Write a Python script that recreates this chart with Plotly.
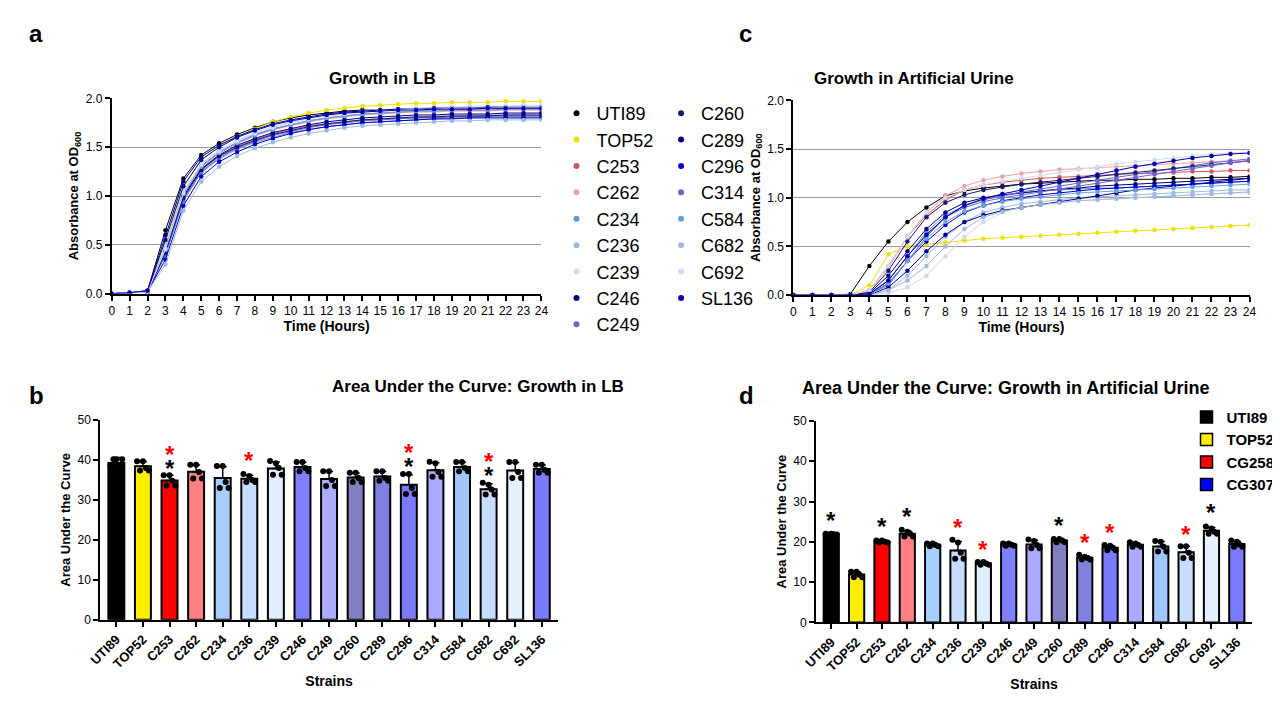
import plotly.graph_objects as go
import numpy as np

hours = list(range(25))
strains = ["UTI89","TOP52","C253","C262","C234","C236","C239","C246","C249",
           "C260","C289","C296","C314","C584","C682","C692","SL136"]

lb = {
"UTI89":[0,0.01,0.03,0.65,1.18,1.42,1.54,1.63,1.7,1.76,1.8,1.83,1.85,1.87,1.88,1.88,1.89,1.89,1.89,1.9,1.9,1.9,1.9,1.9,1.9],
"TOP52":[0,0.01,0.02,0.5,1.08,1.37,1.51,1.61,1.69,1.76,1.81,1.85,1.88,1.9,1.92,1.93,1.94,1.95,1.95,1.96,1.96,1.96,1.97,1.97,1.97],
"C253":[0,0.01,0.02,0.42,0.98,1.27,1.41,1.51,1.58,1.64,1.68,1.72,1.74,1.76,1.78,1.79,1.8,1.8,1.81,1.81,1.82,1.82,1.82,1.82,1.82],
"C262":[0,0.01,0.02,0.45,1.02,1.3,1.44,1.54,1.62,1.68,1.72,1.76,1.79,1.81,1.83,1.84,1.85,1.86,1.86,1.87,1.87,1.87,1.88,1.88,1.88],
"C234":[0,0.01,0.02,0.4,0.95,1.24,1.38,1.48,1.55,1.6,1.65,1.68,1.71,1.73,1.75,1.76,1.77,1.78,1.79,1.8,1.8,1.81,1.81,1.81,1.81],
"C236":[0,0.01,0.02,0.42,0.97,1.26,1.4,1.5,1.57,1.63,1.67,1.71,1.74,1.76,1.78,1.79,1.8,1.81,1.82,1.82,1.83,1.83,1.83,1.84,1.84],
"C239":[0,0.01,0.02,0.48,1.05,1.33,1.47,1.57,1.65,1.71,1.76,1.8,1.83,1.85,1.87,1.88,1.89,1.9,1.91,1.91,1.92,1.92,1.92,1.93,1.93],
"C246":[0,0.01,0.03,0.6,1.15,1.4,1.52,1.61,1.68,1.74,1.78,1.81,1.84,1.86,1.87,1.88,1.89,1.89,1.9,1.9,1.9,1.91,1.91,1.91,1.91],
"C249":[0,0.01,0.02,0.4,0.96,1.25,1.39,1.49,1.56,1.62,1.66,1.7,1.73,1.75,1.77,1.78,1.79,1.8,1.8,1.81,1.81,1.82,1.82,1.82,1.82],
"C260":[0,0.01,0.02,0.42,0.98,1.27,1.41,1.5,1.57,1.63,1.67,1.71,1.74,1.76,1.78,1.79,1.8,1.81,1.81,1.82,1.82,1.82,1.83,1.83,1.83],
"C289":[0,0.01,0.02,0.44,1.0,1.28,1.42,1.52,1.59,1.65,1.69,1.73,1.76,1.78,1.8,1.81,1.82,1.83,1.83,1.84,1.84,1.84,1.85,1.85,1.85],
"C296":[0,0.01,0.02,0.35,0.9,1.2,1.35,1.45,1.53,1.59,1.64,1.68,1.71,1.73,1.75,1.76,1.77,1.78,1.79,1.79,1.8,1.8,1.8,1.8,1.8],
"C314":[0,0.01,0.02,0.46,1.03,1.31,1.45,1.55,1.63,1.69,1.73,1.77,1.8,1.82,1.84,1.85,1.86,1.87,1.87,1.88,1.88,1.88,1.89,1.89,1.89],
"C584":[0,0.01,0.02,0.45,1.02,1.3,1.44,1.54,1.62,1.68,1.73,1.77,1.8,1.82,1.84,1.85,1.86,1.87,1.88,1.88,1.89,1.89,1.89,1.9,1.9],
"C682":[0,0.01,0.02,0.3,0.85,1.15,1.3,1.41,1.49,1.55,1.6,1.64,1.67,1.7,1.72,1.73,1.74,1.75,1.76,1.77,1.77,1.78,1.78,1.78,1.78],
"C692":[0,0.01,0.02,0.46,1.03,1.32,1.46,1.56,1.64,1.7,1.75,1.79,1.82,1.84,1.86,1.87,1.88,1.89,1.89,1.9,1.9,1.9,1.91,1.91,1.91],
"SL136":[0,0.01,0.03,0.55,1.1,1.37,1.5,1.6,1.67,1.73,1.77,1.8,1.83,1.85,1.86,1.87,1.88,1.88,1.89,1.89,1.89,1.9,1.9,1.9,1.9],
}
au = {
"UTI89":[0,0,0,0.01,0.3,0.55,0.75,0.9,1.02,1.07,1.1,1.12,1.14,1.15,1.16,1.17,1.18,1.18,1.19,1.19,1.2,1.2,1.21,1.21,1.22],
"TOP52":[0,0,0,0,0.1,0.42,0.5,0.52,0.54,0.56,0.58,0.59,0.6,0.61,0.62,0.63,0.64,0.65,0.66,0.67,0.68,0.69,0.7,0.71,0.72],
"C253":[0,0,0,0,0.05,0.3,0.6,0.82,0.98,1.08,1.13,1.16,1.18,1.2,1.21,1.22,1.23,1.24,1.25,1.25,1.26,1.27,1.27,1.28,1.28],
"C262":[0,0,0,0,0.05,0.28,0.6,0.85,1.02,1.12,1.18,1.22,1.25,1.27,1.29,1.3,1.31,1.32,1.33,1.34,1.35,1.36,1.37,1.38,1.38],
"C234":[0,0,0,0,0.02,0.15,0.4,0.65,0.82,0.92,0.98,1.02,1.05,1.07,1.08,1.09,1.1,1.1,1.11,1.12,1.13,1.14,1.15,1.16,1.17],
"C236":[0,0,0,0,0,0.05,0.2,0.4,0.6,0.75,0.85,0.9,0.94,0.96,0.98,1.0,1.01,1.02,1.03,1.04,1.05,1.06,1.07,1.08,1.08],
"C239":[0,0,0,0,0,0.02,0.08,0.2,0.4,0.6,0.75,0.85,0.9,0.93,0.95,0.97,0.98,0.99,1.0,1.01,1.02,1.03,1.04,1.05,1.05],
"C246":[0,0,0,0,0.02,0.2,0.45,0.68,0.85,0.95,1.0,1.03,1.05,1.07,1.09,1.1,1.12,1.13,1.14,1.15,1.16,1.17,1.18,1.19,1.2],
"C249":[0,0,0,0,0.01,0.1,0.35,0.6,0.8,0.92,0.98,1.02,1.06,1.09,1.12,1.15,1.18,1.21,1.24,1.27,1.3,1.33,1.36,1.38,1.4],
"C260":[0,0,0,0,0.03,0.25,0.55,0.8,0.95,1.03,1.08,1.11,1.14,1.16,1.18,1.2,1.22,1.24,1.26,1.28,1.3,1.32,1.34,1.36,1.38],
"C289":[0,0,0,0,0,0.08,0.25,0.45,0.62,0.75,0.82,0.87,0.9,0.93,0.96,0.99,1.02,1.05,1.08,1.1,1.12,1.14,1.16,1.18,1.2],
"C296":[0,0,0,0,0.01,0.12,0.35,0.55,0.72,0.85,0.92,0.97,1.0,1.03,1.05,1.07,1.09,1.1,1.11,1.12,1.13,1.14,1.15,1.16,1.17],
"C314":[0,0,0,0,0.01,0.15,0.4,0.62,0.8,0.9,0.96,1.0,1.03,1.06,1.09,1.12,1.15,1.18,1.21,1.24,1.27,1.3,1.33,1.36,1.38],
"C584":[0,0,0,0,0.01,0.12,0.35,0.58,0.75,0.86,0.92,0.96,0.99,1.01,1.03,1.05,1.06,1.07,1.08,1.09,1.1,1.11,1.12,1.13,1.14],
"C682":[0,0,0,0,0,0.05,0.15,0.3,0.5,0.68,0.8,0.86,0.9,0.93,0.95,0.97,0.98,0.99,1.0,1.01,1.02,1.03,1.04,1.05,1.06],
"C692":[0,0,0,0,0.05,0.3,0.6,0.85,1.0,1.08,1.13,1.17,1.2,1.23,1.26,1.29,1.32,1.35,1.37,1.39,1.41,1.43,1.45,1.46,1.47],
"SL136":[0,0,0,0,0.01,0.15,0.4,0.62,0.8,0.92,0.99,1.04,1.08,1.12,1.16,1.2,1.24,1.28,1.32,1.35,1.38,1.41,1.43,1.45,1.46],
}

lb_reps = {
"UTI89":[38.6,40.2,40.2,40.2,37.0],"TOP52":[39.7,39.7,37.4,37.4,38.0],"C253":[36.2,36.2,33.6,33.6,34.8],
"C262":[38.8,38.8,35.4,35.4,37.0],"C234":[38.5,38.5,33.0,33.0,34.5],"C236":[36.5,36.0,34.5,34.5,35.0],
"C239":[39.8,39.2,36.3,36.3,38.0],"C246":[39.5,39.5,37.2,37.2,38.0],"C249":[37.2,37.2,33.5,33.5,35.0],
"C260":[36.8,36.8,34.5,34.5,35.5],"C289":[37.2,37.2,34.8,34.8,35.5],"C296":[36.5,36.5,31.5,31.5,33.0],
"C314":[39.6,39.2,35.8,35.8,37.0],"C584":[39.5,39.5,37.2,37.2,38.0],"C682":[34.3,33.8,31.4,31.4,32.6],
"C692":[39.5,39.5,35.5,35.5,37.0],"SL136":[38.8,38.8,36.8,36.8,37.5],
}
au_reps = {
"UTI89":[22.0,22.0,21.8,21.8,21.9],"TOP52":[12.6,12.6,11.2,11.2,11.8],"C253":[20.3,20.3,19.8,19.8,20.0],
"C262":[23.0,22.5,21.3,21.3,22.0],"C234":[19.6,19.6,18.9,18.9,19.2],"C236":[20.5,19.8,15.8,15.8,17.3],
"C239":[15.0,15.0,14.3,14.3,14.6],"C246":[19.6,19.6,19.0,19.0,19.3],"C249":[20.6,20.2,18.4,18.4,19.2],
"C260":[20.7,20.7,19.9,19.9,20.3],"C289":[16.8,16.3,15.6,15.6,16.0],"C296":[19.2,19.0,17.9,17.9,18.5],
"C314":[19.9,19.6,18.8,18.8,19.2],"C584":[20.2,20.0,17.6,17.6,18.8],"C682":[18.9,18.9,16.0,16.0,17.3],
"C692":[23.8,23.3,22.0,22.0,22.5],"SL136":[20.3,20.0,18.8,18.8,19.3],
}
lb_black_star = ["C253","C296","C682"]
lb_red_star = ["C253","C236","C296","C682"]
au_black_star = ["UTI89","C253","C262","C260","C692"]
au_red_star = ["C236","C239","C289","C296","C682"]
legend_d = ["UTI89","TOP52","CG258","CG307"]

line_colors = {"UTI89":"#000000","TOP52":"#f0e000","C253":"#d9535f","C262":"#f0a0a8","C234":"#5b9bd5",
 "C236":"#9db8e0","C239":"#d0d8ee","C246":"#000080","C249":"#6a6acd","C260":"#191970","C289":"#00008b",
 "C296":"#0000cd","C314":"#7060d0","C584":"#6aa0e0","C682":"#a0b8e0","C692":"#d0dcf0","SL136":"#0000b0"}
bar_colors = {"UTI89":"#000000","TOP52":"#ffee00","C253":"#ff0000","C262":"#ff8080","C234":"#a8ceff",
 "C236":"#c8dcff","C239":"#e0ecff","C246":"#7f7fff","C249":"#aaaaff","C260":"#8080c0","C289":"#8080e0",
 "C296":"#7b7bff","C314":"#aaaaff","C584":"#a0c8ff","C682":"#c8dcff","C692":"#e6f0ff","SL136":"#7b7bff"}
legend_d_colors = ["#000000","#ffee00","#ff0000","#0000ff"]

fig = go.Figure()
FONT = "Arial, Liberation Sans, sans-serif"

for s in strains:
    fig.add_trace(go.Scatter(x=hours, y=lb[s], mode="lines+markers", name=s, showlegend=False,
        line=dict(color=line_colors[s], width=1), marker=dict(size=4.5, color=line_colors[s]),
        xaxis="x", yaxis="y"))
for s in strains:
    fig.add_trace(go.Scatter(x=hours, y=au[s], mode="lines+markers", name=s, showlegend=False,
        line=dict(color=line_colors[s], width=1), marker=dict(size=4.5, color=line_colors[s]),
        xaxis="x2", yaxis="y2"))
# marker-only legend entries
for i, s in enumerate(strains):
    fig.add_trace(go.Scatter(x=[None], y=[None], mode="markers", name=s,
        marker=dict(size=6, color=line_colors[s]), xaxis="x", yaxis="y",
        legend="legend" if i < 9 else "legend2"))

offs = [-0.22,0,0.22,-0.11,0.11]
def bars(reps, xa, ya, blacks, reds, blk_off, red_off):
    xs = list(range(len(strains)))
    means = [float(np.mean(reps[s])) for s in strains]
    sds = [float(np.std(reps[s], ddof=1)) for s in strains]
    fig.add_trace(go.Bar(x=xs, y=means, marker=dict(color=[bar_colors[s] for s in strains], line=dict(color="black", width=2)),
        error_y=dict(type="data", array=sds, symmetric=False, arrayminus=[0]*len(sds), color="black", thickness=1.5, width=4),
        width=0.6, showlegend=False, xaxis=xa, yaxis=ya))
    dx, dy = [], []
    for i, s in enumerate(strains):
        for j, v in enumerate(reps[s]):
            dx.append(i + offs[j]); dy.append(v)
    fig.add_trace(go.Scatter(x=dx, y=dy, mode="markers", marker=dict(color="black", size=6),
        showlegend=False, xaxis=xa, yaxis=ya))
    for s in blacks:
        i = strains.index(s)
        fig.add_annotation(x=i, y=max(reps[s]) + blk_off, text="<b>*</b>", showarrow=False, xref=xa, yref=ya,
                           font=dict(size=24, color="black"))
    for s in reds:
        i = strains.index(s)
        base = max(reps[s]) + (blk_off if s in blacks else 0)
        fig.add_annotation(x=i, y=base + red_off, text="<b>*</b>", showarrow=False, xref=xa, yref=ya,
                           font=dict(size=24, color="red"))

bars(lb_reps, "x3", "y3", lb_black_star, lb_red_star, 1.8, 3.5)
bars(au_reps, "x4", "y4", au_black_star, au_red_star, 3.4, 3.0)

for name, col in zip(legend_d, legend_d_colors):
    fig.add_trace(go.Bar(x=[None], y=[None], name=f"<b>{name}</b>", marker=dict(color=col, line=dict(color="black", width=1.5)),
                         xaxis="x4", yaxis="y4", legend="legend3"))

ax_common = dict(showline=True, linecolor="black", linewidth=2, ticks="outside", tickcolor="black", tickwidth=1.5,
                 tickfont=dict(size=12, color="black", family="Arial Black, Liberation Sans, sans-serif"), zeroline=False)
lx = dict(ax_common, range=[0,24], dtick=1, showgrid=False,
          title=dict(text="<b>Time (Hours)</b>", font=dict(size=14), standoff=2))
ly = dict(ax_common, range=[0,2.0], dtick=0.5, tickformat=".1f", showgrid=True, gridcolor="#999999",
          title=dict(text="<b>Absorbance at OD<sub>600</sub></b>", font=dict(size=13), standoff=4))
bx = dict(ax_common, tickmode="array", tickvals=list(range(17)), ticktext=[f"<b>{s}</b>" for s in strains],
          tickangle=-45, range=[-0.6,16.6], showgrid=False, tickfont=dict(size=13, color="black"),
          title=dict(text="<b>Strains</b>", font=dict(size=14), standoff=6))
by = dict(ax_common, range=[0,50], dtick=10, showgrid=False,
          title=dict(text="<b>Area Under the Curve</b>", font=dict(size=13), standoff=4))

fig.update_layout(
    width=1280, height=709, paper_bgcolor="white", plot_bgcolor="white",
    font=dict(family=FONT, color="black"), margin=dict(l=0, r=0, t=0, b=0),
    xaxis=dict(lx, domain=[0.072,0.413], anchor="y"),
    yaxis=dict(ly, domain=[0.599,0.880], anchor="x"),
    xaxis2=dict(lx, domain=[0.613,0.975], anchor="y2"),
    yaxis2=dict(ly, domain=[0.597,0.877], anchor="x2"),
    xaxis3=dict(bx, domain=[0.063,0.426], anchor="y3"),
    yaxis3=dict(by, domain=[0.130,0.417], anchor="x3"),
    xaxis4=dict(bx, domain=[0.631,0.977], anchor="y4"),
    yaxis4=dict(by, domain=[0.126,0.416], anchor="x4"),
    legend=dict(x=0.425, y=0.885, xanchor="left", yanchor="top", font=dict(size=18), tracegroupgap=0,
                itemwidth=30, bgcolor="rgba(0,0,0,0)"),
    legend2=dict(x=0.508, y=0.885, xanchor="left", yanchor="top", font=dict(size=18), tracegroupgap=0,
                 itemwidth=30, bgcolor="rgba(0,0,0,0)"),
    legend3=dict(x=0.925, y=0.445, xanchor="left", yanchor="top", font=dict(size=15), tracegroupgap=0,
                 itemwidth=30, bgcolor="rgba(0,0,0,0)"),
    annotations=list(fig.layout.annotations) + [
        dict(text="<b>a</b>", x=0.005, y=0.995, xref="paper", yref="paper", showarrow=False, font=dict(size=24), xanchor="left", yanchor="top"),
        dict(text="<b>b</b>", x=0.005, y=0.475, xref="paper", yref="paper", showarrow=False, font=dict(size=24), xanchor="left", yanchor="top"),
        dict(text="<b>c</b>", x=0.568, y=0.995, xref="paper", yref="paper", showarrow=False, font=dict(size=24), xanchor="left", yanchor="top"),
        dict(text="<b>d</b>", x=0.568, y=0.475, xref="paper", yref="paper", showarrow=False, font=dict(size=24), xanchor="left", yanchor="top"),
        dict(text="<b>Growth in LB</b>", x=0.2425, y=0.925, xref="paper", yref="paper", showarrow=False, font=dict(size=17)),
        dict(text="<b>Growth in Artificial Urine</b>", x=0.79, y=0.925, xref="paper", yref="paper", showarrow=False, font=dict(size=17)),
        dict(text="<b>Area Under the Curve: Growth in LB</b>", x=0.245, y=0.465, xref="paper", yref="paper", showarrow=False, font=dict(size=17)),
        dict(text="<b>Area Under the Curve: Growth in Artificial Urine</b>", x=0.618, y=0.463, xref="paper", yref="paper", showarrow=False, font=dict(size=18), xanchor="left"),
    ],
)
fig.write_html("out.html")
